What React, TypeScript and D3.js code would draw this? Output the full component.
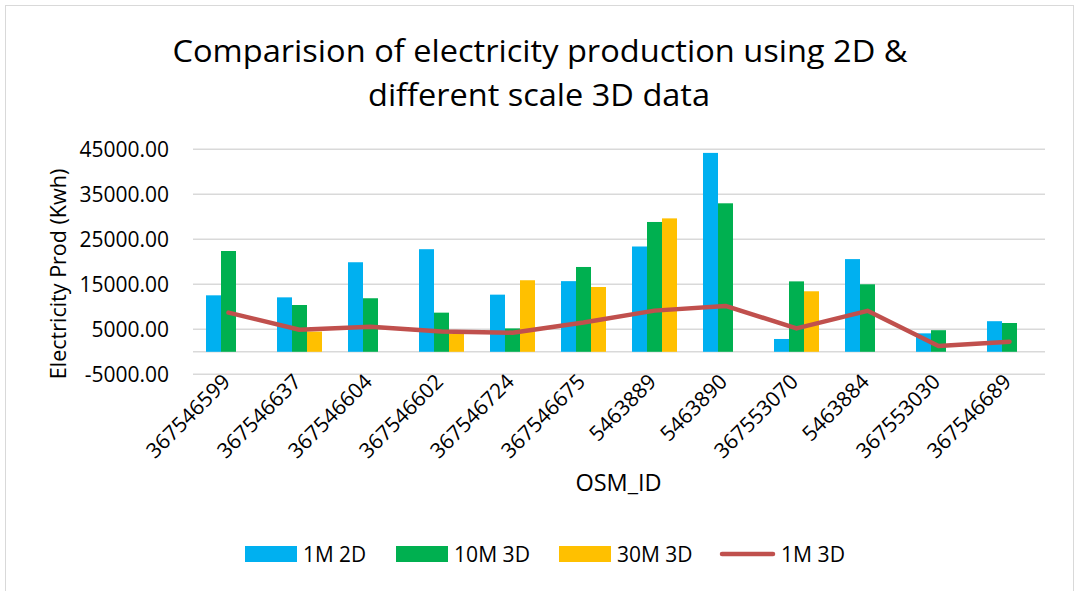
import React from "react";
import * as d3 from "d3";

const categories = ["367546599","367546637","367546604","367546602","367546724","367546675","5463889","5463890","367553070","5463884","367553030","367546689"];
const seriesNames = ["1M 2D", "10M 3D", "30M 3D"];
const m1_2d: (number | null)[] = [12550, 12100, 19900, 22800, 12700, 15700, 23400, 44200, 2850, 20600, 4100, 6800];
const m10_3d: (number | null)[] = [22400, 10400, 11900, 8700, 5200, 18850, 28850, 33000, 15650, 15000, 4800, 6400];
const m30_3d: (number | null)[] = [null, 4500, null, 4000, 15900, 14400, 29650, null, 13450, null, null, null];
const m1_3d: number[] = [8700, 4900, 5550, 4500, 4250, 6500, 9150, 10200, 5200, 9100, 1300, 2250];
const lineName = "1M 3D";
const yTicks = [-5000, 5000, 15000, 25000, 35000, 45000];
const colors = ["#00B0F0", "#00B050", "#FFC000"];
const lineColor = "#C0504D";

const W = 1078, H = 591;
const FONT = "'Open Sans', 'Noto Sans', sans-serif";

export default function App() {
  const left = 193, right = 1045, top = 149.3, bottom = 374.3;
  const x = d3.scaleBand<string>().domain(categories).range([left, right]).padding(0);
  const xs = d3.scaleBand<string>().domain(seriesNames).range([0, x.bandwidth()]).paddingInner(0).paddingOuter(0.867);
  const y = d3.scaleLinear().domain([-5000, 45000]).range([bottom, top]);
  const barData = [m1_2d, m10_3d, m30_3d];
  const line = d3.line<number>()
    .x((_, i) => (x(categories[i]) as number) + x.bandwidth() / 2)
    .y((d) => y(d));

  const legendY = 554;
  const legendItems = [
    { x: 245, w: 52, tw: 63, label: seriesNames[0], color: colors[0], type: "rect" },
    { x: 396, w: 52, tw: 76, label: seriesNames[1], color: colors[1], type: "rect" },
    { x: 559, w: 52, tw: 75.5, label: seriesNames[2], color: colors[2], type: "rect" },
    { x: 720, w: 55, tw: 64, label: lineName, color: lineColor, type: "line" },
  ];

  return (
    <svg width={W} height={H} style={{ position: "absolute", left: 0, top: 0, background: "#fff" }} fontFamily={FONT}>
      <rect x={5.5} y={5.5} width={1068} height={600} fill="#fff" stroke="#d9d9d9" strokeWidth={1} />
      <text x={540} y={62} textAnchor="middle" fontSize={31} textLength={735} lengthAdjust="spacingAndGlyphs" fill="#000">
        Comparision of electricity production using 2D &amp;
      </text>
      <text x={539} y={106} textAnchor="middle" fontSize={31} textLength={342} lengthAdjust="spacingAndGlyphs" fill="#000">
        different scale 3D data
      </text>
      {yTicks.map((t) => (
        <g key={t}>
          <line x1={left} x2={right} y1={y(t)} y2={y(t)} stroke="#d9d9d9" strokeWidth={1.5} />
          <text x={169} y={y(t)} dy="0.36em" textAnchor="end" fontSize={21} fill="#000">{t.toFixed(2)}</text>
        </g>
      ))}
      <line x1={left} x2={right} y1={y(0)} y2={y(0)} stroke="#d9d9d9" strokeWidth={1.5} />
      {barData.map((arr, si) =>
        arr.map((v, ci) =>
          v == null ? null : (
            <rect key={`${si}-${ci}`}
              x={(x(categories[ci]) as number) + (xs(seriesNames[si]) as number)}
              width={xs.bandwidth()}
              y={y(Math.max(v, 0))}
              height={Math.abs(y(v) - y(0))}
              fill={colors[si]} />
          )
        )
      )}
      <path d={line(m1_3d) || ""} fill="none" stroke={lineColor} strokeWidth={4.5} strokeLinejoin="round" strokeLinecap="round" />
      {categories.map((c) => {
        const cx = (x(c) as number) + x.bandwidth() / 2 + 3;
        return (
          <text key={c} transform={`translate(${cx},${383}) rotate(-45)`} textAnchor="end" fontSize={21} fill="#000">{c}</text>
        );
      })}
      <text x={618.5} y={491} textAnchor="middle" fontSize={23.5} fill="#000">OSM_ID</text>
      <text transform={`translate(66,274) rotate(-90)`} textAnchor="middle" fontSize={21.5} fill="#000">Electricity Prod (Kwh)</text>
      {legendItems.map((it) => (
        <g key={it.label + it.x}>
          {it.type === "rect" ? (
            <rect x={it.x} y={legendY - 8} width={it.w} height={16} fill={it.color} />
          ) : (
            <line x1={it.x + 2} x2={it.x + it.w - 2} y1={legendY} y2={legendY} stroke={it.color} strokeWidth={4.5} strokeLinecap="round" />
          )}
          <text x={it.x + it.w + 6} y={legendY} dy="0.36em" fontSize={21} textLength={it.tw} lengthAdjust="spacingAndGlyphs" fill="#000">{it.label}</text>
        </g>
      ))}
    </svg>
  );
}
